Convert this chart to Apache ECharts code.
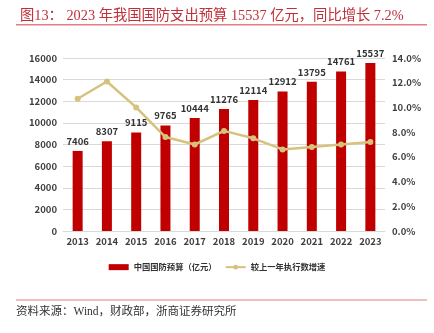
<!DOCTYPE html>
<html><head><meta charset="utf-8">
<script src="https://cdn.jsdelivr.net/npm/echarts@6/dist/echarts.min.js"></script>
<style>html,body{margin:0;padding:0;background:#fff}#c{width:434px;height:333px}</style>
</head><body><div id="c"></div>
<script>
const years = ['2013','2014','2015','2016','2017','2018','2019','2020','2021','2022','2023'];
const budget = [7406, 8307, 9115, 9765, 10444, 11276, 12114, 12912, 13795, 14761, 15537];
const growth = [10.7, 12.1, 10.0, 7.6, 7.0, 8.1, 7.5, 6.6, 6.8, 7.0, 7.2];
const titleText = '图13： 2023 年我国国防支出预算 15537 亿元，同比增长 7.2%';
const sourceText = '资料来源：Wind，财政部，浙商证券研究所';

const chart = echarts.init(document.getElementById('c'), null, {renderer:'canvas'});
const sans = '"Noto Sans CJK SC", "Open Sans", sans-serif';
const serif = '"Liberation Serif", "Noto Sans CJK SC", serif';
chart.setOption({
  animation: false,
  backgroundColor: '#fff',
  title: {
    text: titleText, left: 15, top: 4,
    textStyle: {fontFamily: serif, fontSize: 14.3, fontWeight: 'normal', color: '#C0303A'}
  },
  graphic: [
    {type:'rect', shape:{x:16, y:24, width:411, height:1.5}, style:{fill:'#E27E84'}},
    {type:'rect', shape:{x:16, y:299.5, width:411, height:1}, style:{fill:'#E27E84'}},
    {type:'text', left:16, top:306, style:{text: sourceText, font:'11.5px ' + serif, fill:'#333'}}
  ],
  grid: {left: 63, right: 49, top: 58, bottom: 102},
  legend: {
    top: 258, left: 'center',
    itemGap: 8,
    textStyle: {fontFamily: sans, fontSize: 8.3, fontWeight: 'bold', color: '#333'},
    data: [
      {name:'中国国防预算（亿元）', icon:'rect'},
      {name:'较上一年执行数增速'}
    ],
    itemWidth: 20, itemHeight: 6
  },
  xAxis: {
    type: 'category', data: years,
    axisLine: {lineStyle: {color: '#d9d9d9'}},
    axisTick: {show: false},
    axisLabel: {interval: 0, fontFamily: sans, fontSize: 9.5, fontWeight: 'bold', color: '#404040', margin: 6}
  },
  yAxis: [
    {type:'value', min:0, max:16000, interval:2000,
     axisLine:{show:false}, axisTick:{show:false},
     splitLine:{lineStyle:{color:'#d9d9d9'}},
     axisLabel:{fontFamily: sans, fontSize: 9.5, fontWeight:'bold', color:'#404040', margin: 6,
       formatter: v => String(v)}},
    {type:'value', min:0, max:14, interval:2,
     axisLine:{show:false}, axisTick:{show:false}, splitLine:{show:false},
     axisLabel:{fontFamily: sans, fontSize: 9.5, fontWeight:'bold', color:'#404040', margin: 7,
       formatter: v => v.toFixed(1) + '%'}}
  ],
  series: [
    {name:'中国国防预算（亿元）', type:'bar', data: budget, barWidth: 10,
     itemStyle:{color:'#C00000'},
     label:{show:true, position:'top', distance: 5, fontFamily: sans, fontSize: 9.5, fontWeight:'bold', color:'#333'}},
    {name:'较上一年执行数增速', type:'line', yAxisIndex:1, data: growth,
     symbol:'circle', symbolSize: 6,
     lineStyle:{color:'#D6C27C', width: 2.5},
     itemStyle:{color:'#D6C27C'}}
  ]
});
</script></body></html>
